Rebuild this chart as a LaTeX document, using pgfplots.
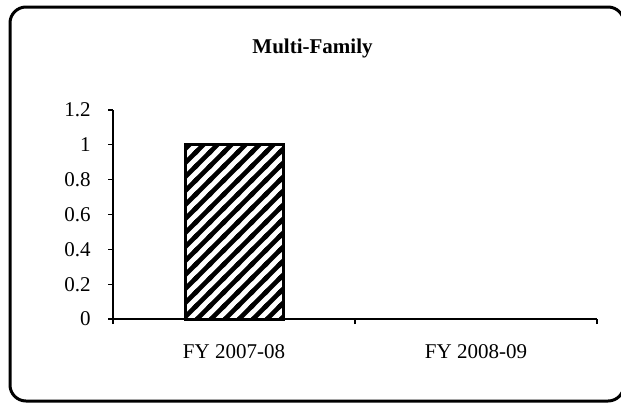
\documentclass[border=0pt]{standalone}
\usepackage{pgfplots}
\pgfplotsset{compat=1.18}
\usepackage{fontspec}
\setmainfont{Liberation Serif}
\usetikzlibrary{patterns}
\pgfdeclarepatternformonly{thickhatch}{\pgfqpoint{-1pt}{-1pt}}{\pgfqpoint{8pt}{8pt}}{\pgfqpoint{7pt}{7pt}}{%
  \pgfsetlinewidth{2.3pt}%
  \pgfpathmoveto{\pgfqpoint{-1pt}{-1pt}}\pgfpathlineto{\pgfqpoint{8pt}{8pt}}%
  \pgfpathmoveto{\pgfqpoint{-1pt}{6pt}}\pgfpathlineto{\pgfqpoint{1pt}{8pt}}%
  \pgfpathmoveto{\pgfqpoint{6pt}{-1pt}}\pgfpathlineto{\pgfqpoint{8pt}{1pt}}%
  \pgfusepath{stroke}}
\begin{document}
\fontsize{10.5}{12.6}\selectfont
\begin{tikzpicture}[x=1pt,y=1pt]
\useasboundingbox (0,0) rectangle (310.5,202);
\draw[line width=1.5pt, rounded corners=8pt] (5,1.5) rectangle (312,198.5);
\node[font=\bfseries] at (156.25,178) {Multi-Family};
\begin{axis}[
  at={(56.5pt,42.5pt)}, anchor=south west,
  scale only axis, width=242pt, height=104.5pt,
  xmin=-0.5, xmax=1.5, ymin=0, ymax=1.2,
  axis x line=bottom, axis y line=left,
  axis line style={-, line width=0.6pt},
  tick align=outside, major tick length=2.5pt,
  tick style={line width=0.6pt, black},
  xtick={-0.5,0.5,1.5}, xticklabels={},
  extra x ticks={0,1},
  extra x tick labels={FY 2007-08,FY 2008-09},
  extra x tick style={major tick length=0pt, xticklabel style={yshift=-9pt}},
  ytick={0,0.2,0.4,0.6,0.8,1,1.2},
  yticklabel style={xshift=-5pt},
  /pgf/number format/assume math mode=true,
  clip=false,
]
\addplot[ybar, bar width=49pt, draw=black, line width=1.5pt,
  pattern=thickhatch]
  coordinates {(0,1)};
\end{axis}
\end{tikzpicture}
\end{document}
